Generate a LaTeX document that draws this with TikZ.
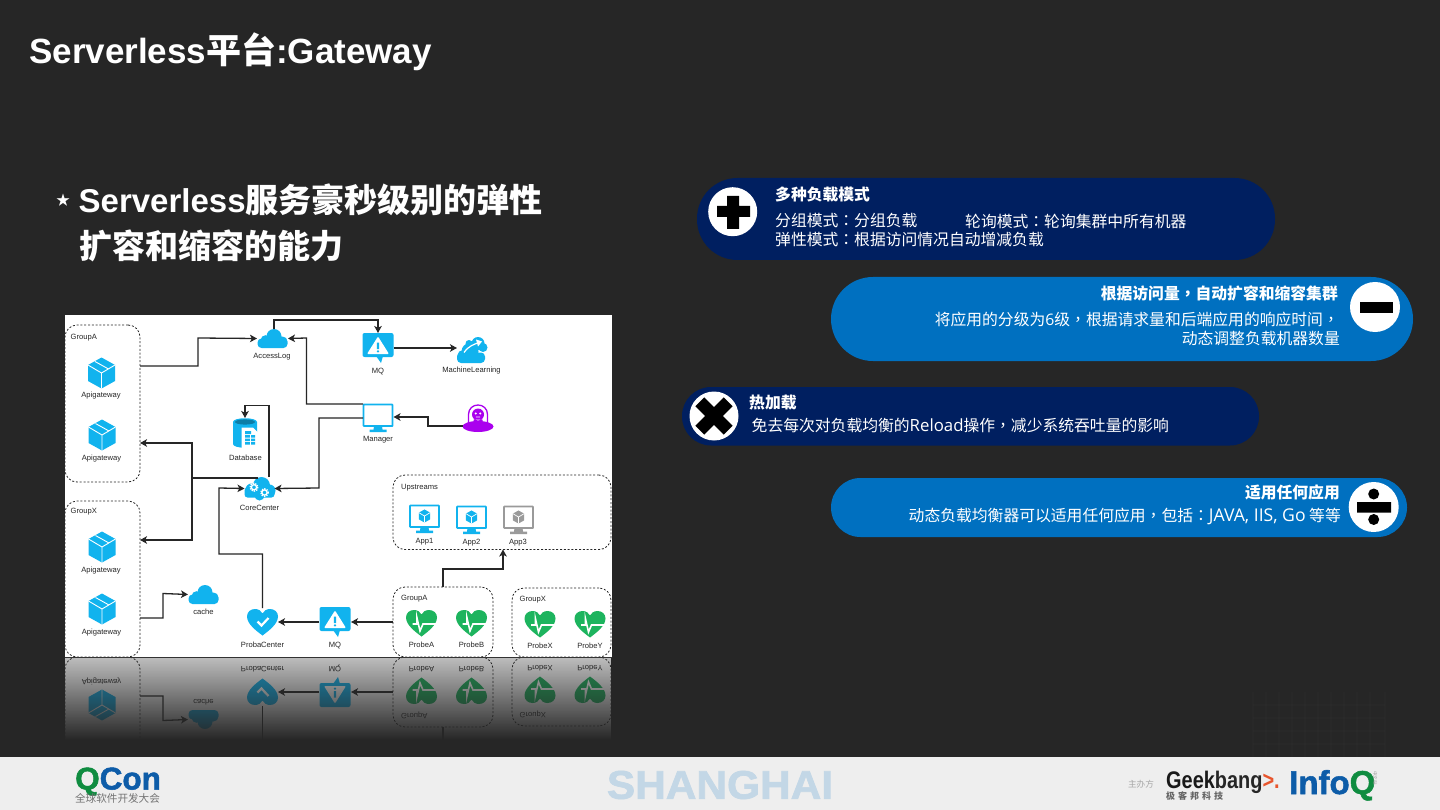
\documentclass[tikz,border=0pt]{standalone}
\usepackage{fontspec}
\setmainfont{Liberation Sans}
\newfontfamily\cjk{Noto Sans CJK SC}
\newfontfamily\tcf{Noto Sans CJK TC}
\newfontfamily\lat{Open Sans}
\newfontfamily\heavy[FakeBold=1.6]{Liberation Sans Bold}
\newcommand\zcolon{{\tcf ：}}
\newcommand\zcomma{{\tcf ，}}
\usetikzlibrary{arrows.meta}
\definecolor{bgc}{HTML}{262626}
\definecolor{cy}{HTML}{11B3EE}
\definecolor{gn}{HTML}{1DB45E}
\definecolor{pu}{HTML}{AA00EE}
\definecolor{gy}{HTML}{9A9A9A}
\definecolor{navy}{HTML}{001F60}
\definecolor{azure}{HTML}{0070C0}
\definecolor{foot}{HTML}{EEEEEE}
\definecolor{sh}{HTML}{C3D7E6}
\definecolor{qg}{HTML}{0F8C40}
\definecolor{qb}{HTML}{0D5CA8}
\definecolor{gko}{HTML}{E8552D}
\newcommand\fs[1]{\fontsize{#1}{#1}\selectfont}
\tikzset{
 iconbox/.style={inner sep=0,outer sep=0},
 lab/.style={inner sep=0,font=\fs{7.6},text=black!85},
 grp/.style={draw=black!85,line width=.8pt,dash pattern=on 2pt off 1.8pt,rounded corners=12pt,inner sep=0,outer sep=0},
 conn/.style={draw=black!85,line width=1.3pt,-{Stealth[length=7pt,width=7.5pt,inset=1.8pt]}},
 plain/.style={draw=black!85,line width=1.3pt},
 pill/.style={inner sep=0,outer sep=0},
 disc/.style={circle,fill=white,inner sep=0,outer sep=0},
 ptitle/.style={inner sep=0,text=white,font=\cjk\bfseries\fs{15.8}},
 pbody/.style={inner sep=0,text=white,font=\cjk\fs{15.8}},
 pics/cubeicon/.style={code={
  \fill[cy] (0,-15.5)--(13.5,-8)--(13.5,8)--(0,15.5)--(-13.5,8)--(-13.5,-8)--cycle;
  \draw[white,line width=.9pt] (-13.5,-8)--(0,0)--(13.5,-8) (0,0)--(0,15.5) (-6.5,-11.5)--(7,-4);
 }},
 pics/cloudicon/.style={code={
  \fill[#1,rounded corners=4pt] (-15,0) rectangle (15,9.5);
  \fill[#1] (1.5,-2) circle (7.5) (-7,1.5) circle (4.8) (10,3) circle (5);
 }},
 pics/mlicon/.style={code={
  \fill[cy,rounded corners=4pt] (-15,3) rectangle (13,13.5);
  \fill[cy] (-2,2) circle (8.5) (-9,6) circle (5.5) (6,-6) circle (6.5) (11,-2) circle (4.5) (-3,-6) circle (3.5);
  \draw[white,line width=1.2pt] (-8,3) .. controls (-3,-4) and (2,-5) .. (7,-7);
  \fill[white] (4,-10)--(10,-8)--(6,-3)--cycle;
 }},
 pics/alerticon/.style={code={
  \fill[cy,rounded corners=2pt] (-15.5,-15) rectangle (15.5,9);
  \fill[cy] (-2,8)--(3,15)--(5,8)--cycle;
  \fill[white,rounded corners=1pt] (0,-11.5)--(11,6)--(-11,6)--cycle;
  \fill[cy] (-1.1,-5.5) rectangle (1.1,1) (0,3.4) circle (1.3);
 }},
 pics/monitoricon/.style={code={
  \draw[#1,fill=white,line width=1.9pt,rounded corners=.6pt] (-14.5,-13.5) rectangle (14.5,8);
  \fill[#1] (-4,8)--(4,8)--(4.5,11.5)--(8.5,11.5)--(8.5,14)--(-8.5,14)--(-8.5,11.5)--(-4.5,11.5)--cycle;
 }},
 pics/appicon/.style={code={
  \pic {monitoricon=#1};
  \begin{scope}[shift={(0,-3)},scale=.42]
  \fill[#1] (0,-15.5)--(13.5,-8)--(13.5,8)--(0,15.5)--(-13.5,8)--(-13.5,-8)--cycle;
  \draw[white,line width=.7pt] (-13.5,-8)--(0,0)--(13.5,-8) (0,0)--(0,15.5);
  \end{scope}
 }},
 pics/ufoicon/.style={code={
  \fill[pu] (0,8) ellipse [x radius=15.5,y radius=5.5];
  \draw[pu,line width=1.3pt] (-9.5,5)--(-9.5,-4) .. controls (-9.5,-10) and (-5,-13.5) .. (0,-13.5) .. controls (5,-13.5) and (9.5,-10) .. (9.5,-4)--(9.5,5);
  \fill[pu] (0,-4) circle (6) (-4.5,1) rectangle (4.5,5);
  \fill[white] (-2.2,-5) circle (1.1) (2.2,-5) circle (1.1) (-2.2,-2) rectangle (2.2,-1.2);
 }},
 pics/dbicon/.style={code={
  \fill[cy] (-12,-11)--(-12,11) .. controls (-12,16) and (12,16) .. (12,11)--(12,-11) .. controls (12,-16) and (-12,-16) .. (-12,-11)--cycle;
  \fill[cy!70!black] (0,-11) ellipse [x radius=10,y radius=2.6];
  \draw[white,fill=white,line width=.6pt] (-3,-5)--(8,-5)--(13,0)--(13,15)--(-3,15)--cycle;
  \fill[cy] (0,-2) rectangle (6,1) (0,2) rectangle (10,4.5) (0,5.5) rectangle (10,8) (0,9) rectangle (10,11.5);
  \draw[white,line width=.5pt] (5,2) -- (5,11.5);
 }},
 pics/gearicon/.style={code={
  \fill[cy,rounded corners=3pt] (-15,-1) rectangle (15,9);
  \fill[cy] (2,-3) circle (8.5) (-8,1) circle (6) (10,2) circle (6) (0,7) circle (5);
  \foreach \g/\r in {-5.5/3.9,5/3.7}{
   \draw[white,line width=1.4pt,dash pattern=on 1.3pt off 1.1pt] ({\g},{\g/2+1.5}) circle (\r);
   \draw[white,line width=1.3pt] ({\g},{\g/2+1.5}) circle (2.6);
  }
 }},
 pics/hearticon/.style={code={
  \fill[#1] (0,13.5) .. controls (-6,9) and (-15.5,2) .. (-15.5,-5.5) .. controls (-15.5,-10) and (-12,-13) .. (-7.5,-13) .. controls (-4,-13) and (-1,-11) .. (0,-8.5) .. controls (1,-11) and (4,-13) .. (7.5,-13) .. controls (12,-13) and (15.5,-10) .. (15.5,-5.5) .. controls (15.5,2) and (6,9) .. (0,13.5) -- cycle;
 }},
 pics/probeicon/.style={code={
  \pic {hearticon=gn};
  \draw[white,line width=1.6pt] (-9,1)--(-4.5,1)--(-4.5,-5)--(-1.5,8)--(1.5,1)--(15,1);
 }},
 pics/checkicon/.style={code={
  \pic {hearticon=cy};
  \draw[white,line width=2.2pt] (-5,-.5)--(-1,3.5)--(6,-4);
 }},
}
\newcommand\icon[4]{\node[iconbox,minimum width=#3pt,minimum height=#4pt] (#1) at (#2) {};}
% the part of the diagram that also shows in the reflection
\newcommand\drawlower{%
 \node[grp,minimum width=75pt,minimum height=156pt] (gwX) at (102.5,579) {};
 \node[grp,minimum width=100pt,minimum height=70pt] (prA) at (443,622) {};
 \node[grp,minimum width=99pt,minimum height=69pt] (prX) at (561.5,622.5) {};
 \node[lab,anchor=west] (tPA) at (401,598.5) {GroupA};
 \node[lab,anchor=west] (tPX) at (519.5,600) {GroupX};
 \icon{c4}{102,609}{27}{31}\pic at (c4) {cubeicon};
 \node[lab] (l4) at (101.5,633) {Apigateway};
 \icon{cache}{203.5,594.5}{31}{19}\pic at (cache) {cloudicon=cy};
 \node[lab] (l11) at (203.5,612) {cache};
 \icon{pc}{262.5,622}{31}{28}\pic at (pc) {checkicon};
 \node[lab] (l12) at (262.5,644.5) {ProbaCenter};
 \icon{mqb}{335,622}{32}{30}\pic at (mqb) {alerticon};
 \node[lab] (l13) at (335,645.5) {MQ};
 \icon{pa}{421.5,623}{31}{26}\pic at (pa) {probeicon};
 \icon{pb}{471.5,623}{31}{26}\pic at (pb) {probeicon};
 \icon{px}{540,624}{31}{26}\pic at (px) {probeicon};
 \icon{py}{590,624}{31}{26}\pic at (py) {probeicon};
 \node[lab] (l17) at (421.5,645) {ProbeA};
 \node[lab] (l18) at (471.5,645) {ProbeB};
 \node[lab] (l19) at (540,645.5) {ProbeX};
 \node[lab] (l20) at (590,645.5) {ProbeY};
 \draw[conn] (gwX.east |- 0,618) -- (163,618) -- (163,593.5) -- (cache.west);
 \draw[conn] (mqb.west) -- (pc.east);
 \draw[conn] (prA.west) -- (mqb.east);
}
\newcommand\drawupper{%
 \node[grp,minimum width=75pt,minimum height=157pt] (gwA) at (102.5,403.5) {};
 \node[grp,minimum width=218pt,minimum height=74.5pt] (up) at (502,512.3) {};
 \node[lab,anchor=west] (tA) at (70.5,337.5) {GroupA};
 \node[lab,anchor=west] (tX) at (70.5,512) {GroupX};
 \node[lab,anchor=west] (tU) at (401,487.5) {Upstreams};
 \icon{c1}{101.5,373}{27}{31}\pic at (c1) {cubeicon};
 \icon{c2}{102,435}{27}{31}\pic at (c2) {cubeicon};
 \icon{c3}{102,547}{27}{31}\pic at (c3) {cubeicon};
 \node[lab] (l1) at (101,396) {Apigateway};
 \node[lab] (l2) at (101.5,458.5) {Apigateway};
 \node[lab] (l3) at (101,571) {Apigateway};
 \icon{alog}{272.5,338.5}{31}{19}\pic at (alog) {cloudicon=cy};
 \node[lab] (l5) at (272,357) {AccessLog};
 \icon{mqa}{378,348}{31}{30}\pic at (mqa) {alerticon};
 \node[lab] (l6) at (378,372) {MQ};
 \icon{ml}{472,349.5}{30}{27}\pic at (ml) {mlicon};
 \node[lab] (l7) at (471.5,371) {MachineLearning};
 \icon{mgr}{378,418}{31}{28}\pic at (mgr) {monitoricon=cy};
 \node[lab] (l8) at (378,440) {Manager};
 \icon{ufo}{478,418.5}{31}{27}\pic at (ufo) {ufoicon};
 \icon{db}{245,433}{24}{30}\pic at (db) {dbicon};
 \node[lab] (l9) at (245.5,457.5) {Database};
 \icon{core}{259.5,488.5}{30}{23}\pic at (core) {gearicon};
 \node[lab] (l10) at (259.5,508) {CoreCenter};
 \icon{a1}{424.5,519}{31}{28}\pic at (a1) {appicon=cy};
 \icon{a2}{471.5,520}{31}{28}\pic at (a2) {appicon=cy};
 \icon{a3}{518.5,520}{31}{28}\pic at (a3) {appicon=gy};
 \node[lab] (l14) at (424.5,542) {App1};
 \node[lab] (l15) at (471.5,543) {App2};
 \node[lab] (l16) at (518,543) {App3};
 \coordinate (mgrT) at (363,404);
 \coordinate (mgrM) at (363,418);
 \coordinate (coreT) at (258,478);
 \coordinate (coreD) at (269,477);
 \coordinate (alogT) at (274,329);
 \coordinate (upB) at (503,549.5);
 \draw[conn] (gwA.east |- 0,366) -- (198,366) -- (198,338) -- (alog.west);
 \draw[conn] (alogT) -- (274,320) -- (378,320) -- (mqa.north);
 \draw[conn] (mqa.east) -- (ml.west |- mqa.east);
 \draw[conn] (mgrT) -- (306.5,404) -- (306.5,338) -- (alog.east);
 \draw[conn] (mgrM) -- (319,418) -- (319,488) -- (core.east);
 \draw[conn] (ufo.west |- 0,426) -- (428,426) -- (428,417) -- (mgr.east |- 0,417);
 \draw[conn] (coreD) -- (269,405.5) -- (245,405.5) -- (db.north);
 \draw[plain] (coreT) -- (192,478);
 \draw[conn] (192,478) -- (192,443) -- (gwA.east |- 0,443);
 \draw[conn] (192,478) -- (192,540) -- (gwX.east |- 0,540);
 \draw[conn] (pc.north) -- (262.5,554) -- (219,554) -- (219,488) -- (core.west);
 \draw[conn] (prA.north) -- (443,569) -- (503,569) -- (upB);
}
\begin{document}
\begin{tikzpicture}[x=1pt,y=-1pt]
\useasboundingbox (0,0) rectangle (1440,810);
\fill[bgc] (0,0) rectangle (1440,810);
% faint watermark
\foreach \v in {1253,1266,1279,1292,1305,1318,1331,1344,1357,1370,1385}
  \draw[white,opacity=.012,line width=1.5pt] (\v,692) -- (\v,757);
\foreach \v in {705,718,731,744}
  \draw[white,opacity=.01,line width=1.5pt] (1253,\v) -- (1385,\v);
% title
\node[inner sep=0,anchor=base west,text=white,font=\bfseries\fs{35}] (title) at (29,63.5) {Serverless{\cjk 平台}:Gateway};
\node[inner sep=0,text=white,font=\cjk\fs{14}] (star) at (63,200.5) {★};
\node[inner sep=0,anchor=west,text=white,font=\bfseries\fs{33}] (b1) at (78.5,200) {Serverless{\cjk 服务豪秒级别的弹性}};
\node[inner sep=0,anchor=west,text=white,font=\cjk\bfseries\fs{33}] (b2) at (79.5,246) {扩容和缩容的能力};
% diagram
\fill[white] (65,315) rectangle (611.5,657);
\drawlower
\drawupper
% reflection
\begin{scope}
 \clip (65,657) rectangle (611,745);
 \fill[white] (65,657) rectangle (611,745);
 \begin{scope}[cm={1,0,0,-1,(0,1314)},transform shape]
  \drawlower
  \draw[plain] (pc.north) -- (262.5,570);
  \draw[plain] (prA.north) -- (443,569);
 \end{scope}
\end{scope}
\foreach \i in {0,...,89}{
  \pgfmathsetmacro{\a}{min(1,.3+.7*\i/83)}
  \fill[bgc,opacity=\a] (64,{657+\i}) rectangle (613,{658+\i});
}
\draw[black!80,line width=1pt] (65,657) -- (611.5,657);
% pills
\fill[navy,rounded corners=40.5pt] (697,178) rectangle (1275,260);
\node[disc,minimum size=49pt] (d1) at (732.7,211.7) {};
\fill[black] (717,206) rectangle (750,217) (727,196) rectangle (739,229);
\node[ptitle,anchor=west] (t1) at (775,195) {多种负载模式};
\node[pbody,anchor=west] (t1a) at (775,221) {分组模式\zcolon 分组负载};
\node[pbody,anchor=west] (t1b) at (965,221) {轮询模式\zcolon 轮询集群中所有机器};
\node[pbody,anchor=west] (t1c) at (775,240) {弹性模式\zcolon 根据访问情况自动增减负载};

\fill[azure,rounded corners=42pt] (831,277) rectangle (1413,361);
\node[disc,minimum size=50pt] (d2) at (1375,307) {};
\fill[black] (1360,302) rectangle (1393,313);
\node[ptitle,anchor=east] (t2) at (1338,293) {根据访问量\zcomma 自动扩容和缩容集群};
\node[pbody,anchor=east] (t2a) at (1339,319) {将应用的分级为{\lat 6}级\zcomma 根据请求量和后端应用的响应时间\zcomma};
\node[pbody,anchor=east] (t2b) at (1340,338) {动态调整负载机器数量};

\fill[navy,rounded corners=29pt] (682,387) rectangle (1259,445.5);
\node[disc,minimum size=49pt] (d3) at (714,416) {};
\fill[black,rotate around={45:(714,416)}] (694,409.7) rectangle (734,422.3) (707.7,396) rectangle (720.3,436);
\node[ptitle,anchor=west] (t3) at (749,403) {热加载};
\node[pbody,anchor=west] (t3a) at (751.5,425) {免去每次对负载均衡的{\lat\fs{16.8}Reload}操作\zcomma 减少系统吞吐量的影响};

\fill[azure,rounded corners=29.5pt] (831,478) rectangle (1407,537);
\node[disc,minimum size=50pt] (d4) at (1373.7,507) {};
\fill[black] (1357,502) rectangle (1391,512.5) (1373.7,494) circle (5.5) (1373.7,519.5) circle (5.5);
\node[ptitle,anchor=east] (t4) at (1340,492) {适用任何应用};
\node[pbody,anchor=east] (t4a) at (1341,516) {动态负载均衡器可以适用任何应用\zcomma 包括\zcolon{\lat\fs{17.6}JAVA, IIS, Go} 等等};
% footer
\fill[foot] (0,757) rectangle (1440,810);
\node[inner sep=0,anchor=base west,font=\heavy\fs{31.5}] (qc) at (75,789.5) {\textcolor{qg}{Q}\textcolor{qb}{Con}};
\node[inner sep=0,text=black!55,font=\cjk\fs{10.6}] (qt) at (117.5,798.5) {全球软件开发大会};
\node[inner sep=0,text=sh,font=\heavy\fs{40}] (sha) at (720,785) {\scalebox{1.06}[1]{SHANGHAI}};
\node[inner sep=0,text=black!35,font=\cjk\fs{8.6}] (zb) at (1141,784.5) {主办方};
\node[inner sep=0,anchor=base west,font=\fs{24}] (gk) at (1166,788) {\scalebox{.83}[1]{\textbf{\textcolor{black!90}{Geek}}\textcolor{black!85}{\textbf{bang}}\textbf{\textcolor{gko}{>.}}}};
\node[inner sep=0,anchor=west,text=black!60,font=\cjk\bfseries\fs{9}] (gt) at (1166,796) {极\,\,客\,\,邦\,\,科\,\,技};
\node[inner sep=0,anchor=base west,font=\heavy\fs{33}] (iq) at (1289,794) {\textcolor{qb}{Info}\textcolor{qg}{Q}};
\node[inner sep=0,rotate=-90,text=black!40,font=\cjk\fs{4.5}] (iz) at (1375,778) {中文站};
\end{tikzpicture}
\end{document}
